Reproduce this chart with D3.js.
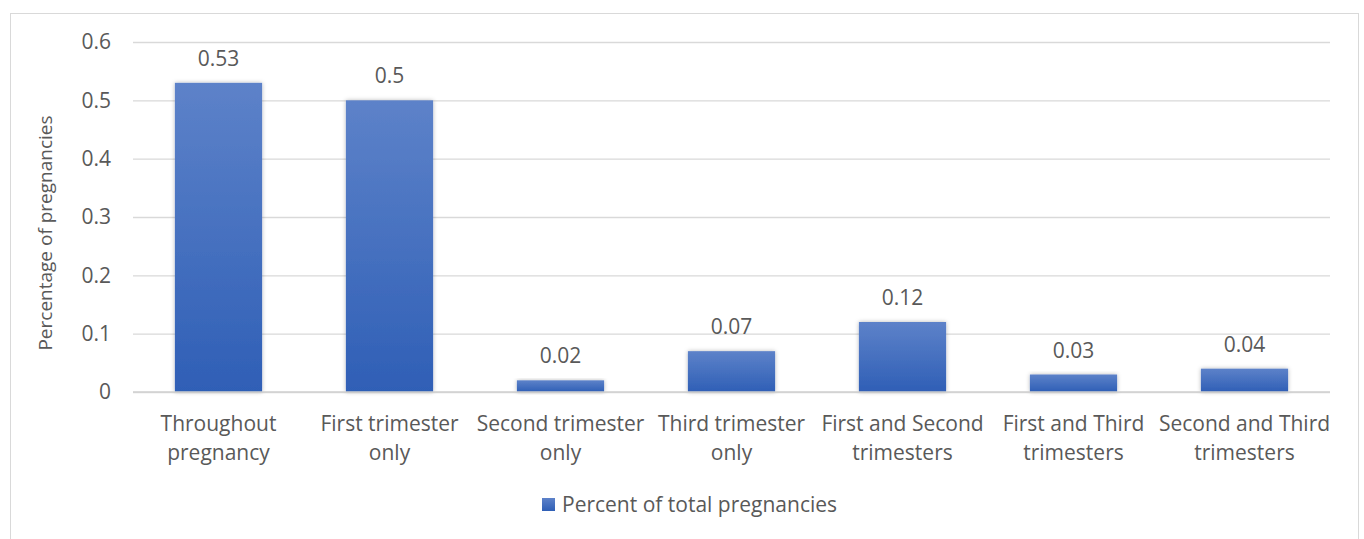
<!DOCTYPE html>
<html>
<head>
<meta charset="utf-8">
<script src="https://cdn.jsdelivr.net/npm/d3@7"></script>
<style>
  html, body { margin: 0; padding: 0; background: #fff; }
  svg { display: block; }
  text { font-family: "Open Sans", sans-serif; fill: #595959; }
</style>
</head>
<body>
<div id="chart"></div>
<script>
// Share of pregnancies by trimester of exposure
const categories = [
  ["Throughout", "pregnancy"],
  ["First trimester", "only"],
  ["Second trimester", "only"],
  ["Third trimester", "only"],
  ["First and Second", "trimesters"],
  ["First and Third", "trimesters"],
  ["Second and Third", "trimesters"]
];
const values = [0.53, 0.5, 0.02, 0.07, 0.12, 0.03, 0.04];
const yTicks = [0, 0.1, 0.2, 0.3, 0.4, 0.5, 0.6];
const seriesName = "Percent of total pregnancies";
const yTitle = "Percentage of pregnancies";

const W = 1364, H = 539;
const plot = { left: 133, right: 1330, top: 42, bottom: 392 };
const FS = 21;

const svg = d3.select("#chart").append("svg")
  .attr("width", W).attr("height", H);

const defs = svg.append("defs");
const grad = defs.append("linearGradient")
  .attr("id", "barFill")
  .attr("x1", 0).attr("y1", 0).attr("x2", 0).attr("y2", 1);
grad.append("stop").attr("offset", "0%").attr("stop-color", "#5d82c9");
grad.append("stop").attr("offset", "100%").attr("stop-color", "#2f5fb6");

const shadow = defs.append("filter").attr("id", "barShadow")
  .attr("x", "-20%").attr("y", "-20%").attr("width", "140%").attr("height", "140%");
shadow.append("feDropShadow")
  .attr("dx", 0).attr("dy", 0).attr("stdDeviation", 2.2)
  .attr("flood-color", "#000").attr("flood-opacity", 0.28);

// chart frame
svg.append("rect")
  .attr("x", 10.5).attr("y", 13.5)
  .attr("width", 1348).attr("height", 540)
  .attr("fill", "none").attr("stroke", "#d9d9d9").attr("stroke-width", 1);

const x = d3.scaleBand()
  .domain(d3.range(categories.length))
  .range([plot.left, plot.right])
  .paddingInner(0.49).paddingOuter(0.245);

const y = d3.scaleLinear().domain([0, 0.6]).range([plot.bottom, plot.top]);

// gridlines and tick labels
const yAxis = d3.axisLeft(y).tickValues(yTicks)
  .tickSize(-(plot.right - plot.left)).tickPadding(22)
  .tickFormat(d => d3.format("")(+d.toFixed(1)));
const gy = svg.append("g").attr("transform", `translate(${plot.left},0)`).call(yAxis);
gy.select(".domain").remove();
gy.selectAll(".tick line").attr("stroke", "#d9d9d9").attr("stroke-width", 1.3);
gy.selectAll(".tick text").attr("font-size", FS).style("fill", "#595959")
  .attr("font-family", "Open Sans");

// bars
svg.append("g").selectAll("rect").data(values).join("rect")
  .attr("x", (d, i) => x(i))
  .attr("y", d => y(d))
  .attr("width", x.bandwidth())
  .attr("height", d => y(0) - y(d))
  .attr("fill", "url(#barFill)")
  .attr("filter", "url(#barShadow)");

// baseline
svg.append("line")
  .attr("x1", plot.left).attr("x2", plot.right)
  .attr("y1", y(0)).attr("y2", y(0))
  .attr("stroke", "#d0d0d0").attr("stroke-width", 1.5);

// value labels
svg.append("g").selectAll("text").data(values).join("text")
  .attr("x", (d, i) => x(i) + x.bandwidth() / 2)
  .attr("y", d => y(d) - 17)
  .attr("text-anchor", "middle")
  .attr("font-size", FS)
  .text(d => d);

// category labels
const cat = svg.append("g").selectAll("text").data(categories).join("text")
  .attr("x", (d, i) => x(i) + x.bandwidth() / 2)
  .attr("y", 431)
  .attr("text-anchor", "middle")
  .attr("font-size", FS);
cat.selectAll("tspan").data(d => d).join("tspan")
  .attr("x", function () { return d3.select(this.parentNode).attr("x"); })
  .attr("dy", (d, i) => i === 0 ? 0 : 29)
  .text(d => d);

// y-axis title
svg.append("text")
  .attr("transform", `translate(52,233) rotate(-90)`)
  .attr("text-anchor", "middle")
  .attr("font-size", 19)
  .text(yTitle);

// legend
const lg = svg.append("g").attr("transform", "translate(542,498)");
lg.append("rect").attr("width", 13).attr("height", 13).attr("fill", "url(#barFill)");
lg.append("text").attr("x", 20).attr("y", 14).attr("font-size", FS).text(seriesName);
</script>
</body>
</html>
